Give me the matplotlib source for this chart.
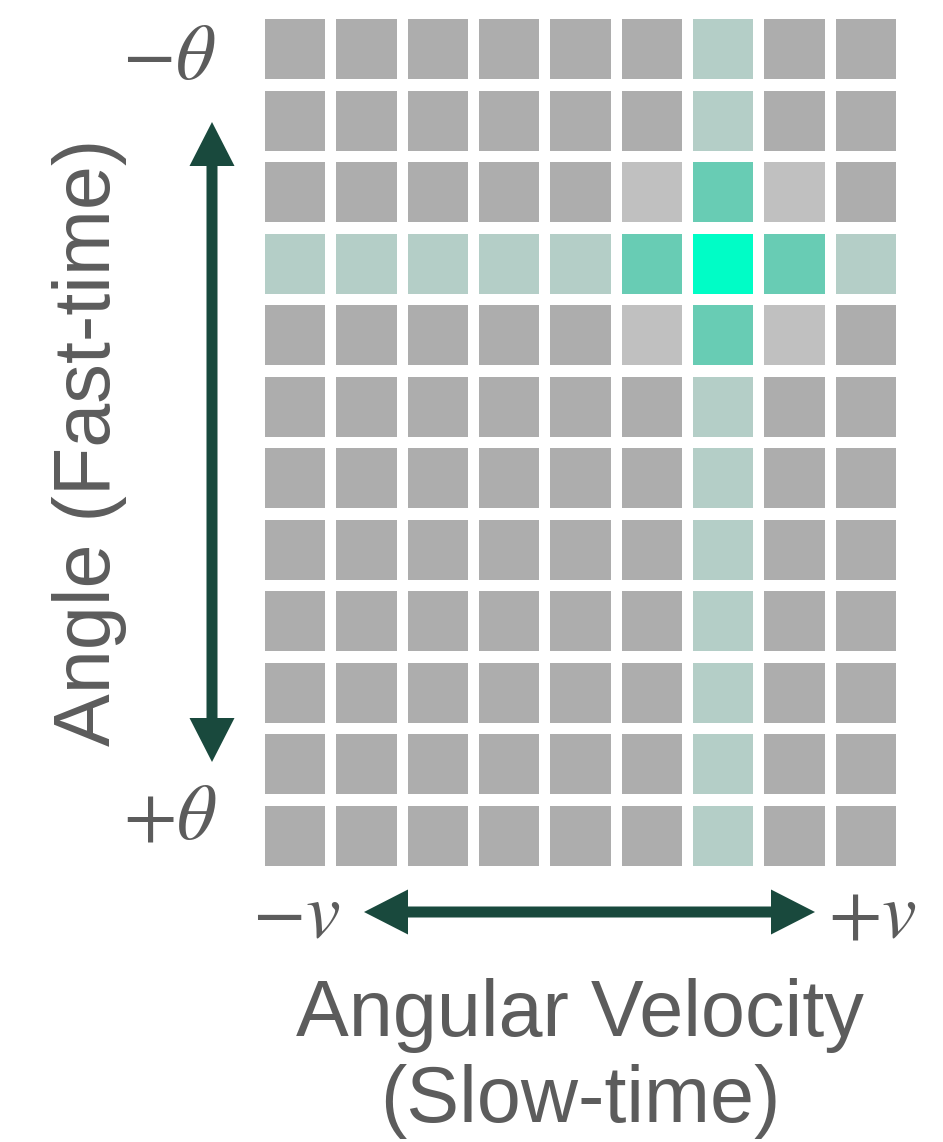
import numpy as np
import matplotlib.pyplot as plt
from matplotlib.patches import Rectangle, Polygon

# cell levels: 0 gray, 1 light gray, 2 faint teal, 3 teal, 4 peak
levels = [
    [0, 0, 0, 0, 0, 0, 2, 0, 0],
    [0, 0, 0, 0, 0, 0, 2, 0, 0],
    [0, 0, 0, 0, 0, 1, 3, 1, 0],
    [2, 2, 2, 2, 2, 3, 4, 3, 2],
    [0, 0, 0, 0, 0, 1, 3, 1, 0],
    [0, 0, 0, 0, 0, 0, 2, 0, 0],
    [0, 0, 0, 0, 0, 0, 2, 0, 0],
    [0, 0, 0, 0, 0, 0, 2, 0, 0],
    [0, 0, 0, 0, 0, 0, 2, 0, 0],
    [0, 0, 0, 0, 0, 0, 2, 0, 0],
    [0, 0, 0, 0, 0, 0, 2, 0, 0],
    [0, 0, 0, 0, 0, 0, 2, 0, 0],
]
palette = ['#adadad', '#c0c0c0', '#b4cec7', '#68ccb4', '#00fdc6']

xlabel = ['Angular Velocity', '(Slow-time)']
ylabel = 'Angle (Fast-time)'
arrow_col = '#19493d'
txt_col = '#5c5c5c'

plt.rcParams['mathtext.fontset'] = 'stix'

W, H = 9.43, 11.42
fig = plt.figure(figsize=(W, H), dpi=100)

nrow = len(levels)
ncol = len(levels[0])
cell = 0.846
ax = fig.add_axes([2.65 / W, (H - 8.66) / H, 6.31 / W, 8.47 / H])
for r in range(nrow):
    for c in range(ncol):
        ax.add_patch(Rectangle((c, r), cell, cell, color=palette[levels[r][c]], lw=0))
ax.set_xlim(0, ncol - 1 + cell)
ax.set_ylim(nrow - 1 + cell, 0)
ax.axis('off')

tr = fig.dpi_scale_trans


def double_arrow(p0, p1, w=0.11, hw=0.45, hl=0.44):
    # one outline for a two-headed arrow, in inches
    p0, p1 = np.array(p0), np.array(p1)
    d = (p1 - p0) / np.linalg.norm(p1 - p0)
    n = np.array([-d[1], d[0]])
    a, b = p0 + d * hl, p1 - d * hl
    pts = [p0, a + n * hw / 2, a + n * w / 2, b + n * w / 2, b + n * hw / 2, p1,
           b - n * hw / 2, b - n * w / 2, a - n * w / 2, a - n * hw / 2]
    fig.patches.append(Polygon(pts, closed=True, lw=0, color=arrow_col, transform=tr))


double_arrow((2.12, H - 1.22), (2.12, H - 7.62))
double_arrow((3.64, H - 9.12), (8.15, H - 9.12))

mkw = dict(fontsize=56, color=txt_col, ha='center', va='baseline', transform=tr)
fig.text(1.69, H - 0.79, r'$-\theta$', **mkw)
fig.text(1.70, H - 8.39, r'$+\theta$', **mkw)
fig.text(2.96, H - 9.36, r'$-v$', **mkw)
fig.text(8.72, H - 9.36, r'$+v$', **mkw)

fig.text(5.80, H - 10.36, xlabel[0], fontsize=57, family='Liberation Sans', color=txt_col,
         ha='center', va='baseline', transform=tr)
fig.text(5.80, H - 11.22, xlabel[1], fontsize=57, family='Liberation Sans', color=txt_col,
         ha='center', va='baseline', transform=tr)
fig.text(0.90, H - 4.42, ylabel, fontsize=57, family='Liberation Sans', color=txt_col,
         rotation=90, ha='center', va='center', transform=tr)

fig.savefig('out.png', dpi=100)
